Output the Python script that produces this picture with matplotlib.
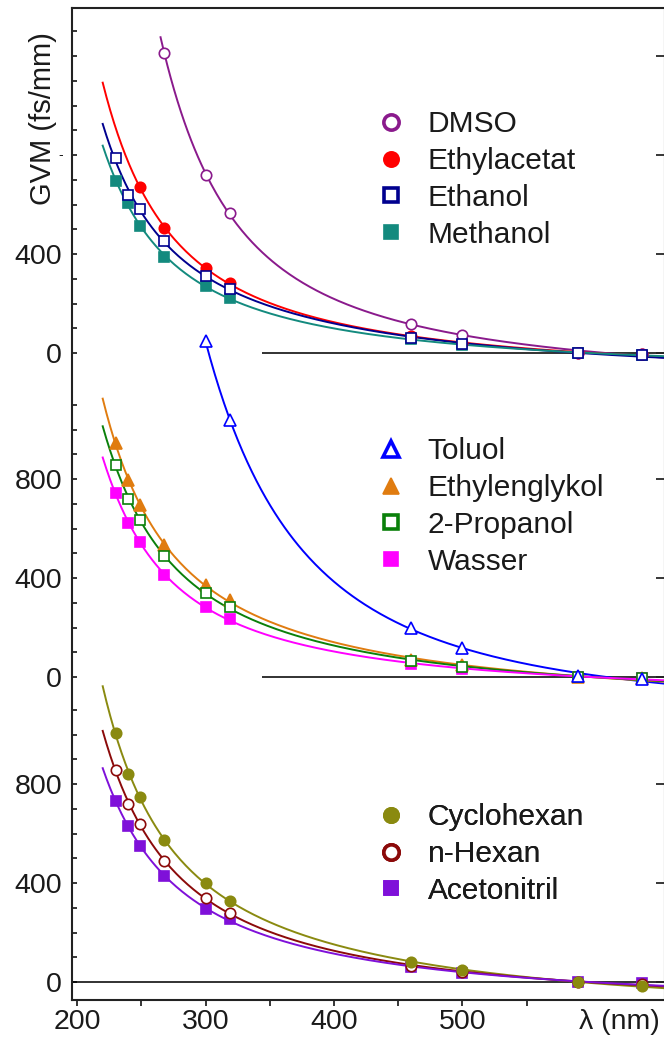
import numpy as np
import matplotlib
matplotlib.use("Agg")
import matplotlib.pyplot as plt
from matplotlib.lines import Line2D

plt.rcParams["font.family"] = ["Liberation Sans", "DejaVu Sans"]

# measurement wavelengths (nm)
lam = [230, 240, 249, 268, 300, 319, 460, 500, 590, 640]
lam_dmso = [268, 300, 319, 460, 500, 590, 640]
lam_ethylacetat = [249, 268, 300, 319, 460, 500, 590, 640]
lam_toluol = [300, 319, 460, 500, 590, 640]

# group velocity mismatch (fs/mm)
dmso = [1212, 719, 566, 117, 73, 0, -3]
ethylacetat = [671, 505, 343, 283, 68, 40, 0, -5]
ethanol = [788, 638, 582, 453, 311, 259, 61, 36, 0, -8]
methanol = [695, 606, 513, 388, 271, 222, 55, 33, 0, -6]

toluol = [1358, 1038, 198, 117, 4, -8]
ethylenglykol = [945, 796, 695, 533, 372, 311, 69, 48, 0, -5]
propanol = [857, 719, 634, 489, 339, 283, 65, 40, 0, -3]
wasser = [743, 622, 545, 412, 283, 234, 53, 32, 0, -3]

cyclohexan = [1006, 840, 748, 574, 400, 327, 81, 48, 0, -16]
nhexan = [857, 719, 638, 489, 339, 279, 66, 40, 0, -8]
acetonitril = [731, 630, 549, 428, 295, 255, 61, 36, 0, -6]

# vertical shift of each stacked block
OFFSET = {"top": 2541, "mid": 1232, "bot": 0}

# name, x, y, colour, marker, filled, block, fit start (nm), marker layer
series = [
    ("DMSO", lam_dmso, dmso, "#8a1a8c", "o", False, "top", 265, 5),
    ("Ethylacetat", lam_ethylacetat, ethylacetat, "#ff0000", "o", True, "top", 220, 4),
    ("Ethanol", lam, ethanol, "#00008f", "s", False, "top", 220, 6),
    ("Methanol", lam, methanol, "#138a7e", "s", True, "top", 220, 3),
    ("Toluol", lam_toluol, toluol, "#0000ff", "^", False, "mid", 300, 6),
    ("Ethylenglykol", lam, ethylenglykol, "#e07c10", "^", True, "mid", 220, 4),
    ("2-Propanol", lam, propanol, "#0a800a", "s", False, "mid", 220, 5),
    ("Wasser", lam, wasser, "#ff00ff", "s", True, "mid", 220, 3),
    ("Cyclohexan", lam, cyclohexan, "#8a8a10", "o", True, "bot", 220, 6),
    ("n-Hexan", lam, nhexan, "#8b0a0a", "o", False, "bot", 220, 5),
    ("Acetonitril", lam, acetonitril, "#7f10d9", "s", True, "bot", 220, 4),
]


def cauchy_fit(x, y, start, stop=660.0):
    """Cubic fit in 1/lambda^2, evaluated from start to stop."""
    u = (1000.0 / np.asarray(x, float)) ** 2
    coef = np.polyfit(u, np.asarray(y, float), 3)
    xs = np.linspace(start, stop, 300)
    return xs, np.polyval(coef, (1000.0 / xs) ** 2)


fig = plt.figure(figsize=(6.64, 10.42), dpi=100)
ax = fig.add_axes([72 / 664, 42 / 1042, 593 / 664, 992 / 1042])
ax.set_xlim(196.1, 657.6)
ax.set_ylim(-72.7, 3935.4)

# zero lines of each block
ax.hlines(OFFSET["top"], 344, 660, color="#222222", lw=1.3, zorder=1)
ax.hlines(OFFSET["mid"], 344, 660, color="#222222", lw=1.3, zorder=1)
ax.hlines(OFFSET["bot"], 190, 660, color="#222222", lw=1.3, zorder=1)

handles = {"top": [], "mid": [], "bot": []}
for name, x, y, col, mk, filled, block, start, layer in series:
    off = OFFSET[block]
    xs, ys = cauchy_fit(x, y, start)
    ax.plot(xs, ys + off, color=col, lw=1.4, zorder=2)
    ms = {"^": 8.5, "o": 7.5, "s": 7}[mk]
    ax.plot(x, np.asarray(y) + off, ls="none", marker=mk, ms=ms,
            mfc=col if filled else "white", mec=col, mew=1.2, zorder=layer)
    lms = 11 if mk != "s" else 9.5
    handles[block].append(Line2D([], [], ls="none", marker=mk, ms=lms,
                                 mfc=col if filled else "white", mec=col,
                                 mew=1.2 if filled else 2.6, label=name))

legend_top = {"top": 110, "mid": 437, "bot": 803}
for block, top_px in legend_top.items():
    leg = ax.legend(handles=handles[block], loc="upper left",
                    bbox_to_anchor=(376.4 / 664, 1 - top_px / 1042),
                    bbox_transform=fig.transFigure, frameon=False,
                    fontsize=21.5, handlelength=1.0, handletextpad=0.72,
                    labelspacing=0.3, borderpad=0, borderaxespad=0)
    for t in leg.get_texts():
        t.set_color("#1a1a1a")
    ax.add_artist(leg)

# y ticks: three blocks on one axis
major, labels, minor = [], [], []
for block, top_val in (("bot", 1100), ("mid", 1100), ("top", 1300)):
    off = OFFSET[block]
    for v in (0, 400, 800, 1200):
        if v <= top_val:
            major.append(off + v)
            labels.append(str(v) if not (block == "top" and v >= 800) else "")
    minor += [off + v for v in range(100, top_val + 1, 100) if v % 400]
ax.set_yticks(major)
ax.set_yticklabels(labels)
ax.set_yticks(minor, minor=True)
ax.tick_params(axis="y", which="both", direction="in", length=3.6, width=1.1,
               labelsize=20.5, pad=7.2, labelcolor="#1a1a1a")

right = ax.secondary_yaxis("right")
right.set_yticks(major)
right.tick_params(direction="in", length=6.5, width=1.1, labelright=False)

ax.text(-0.015, OFFSET["top"] + 800, "-", transform=ax.get_yaxis_transform(),
        ha="right", va="center", fontsize=10, color="#1a1a1a")

ax.set_xticks([200, 300, 400, 500])
ax.set_xticks([250, 350, 450, 550], minor=True)
ax.tick_params(axis="x", which="both", direction="out", length=4.3, width=1.1,
               labelsize=20.5, pad=2, labelcolor="#1a1a1a")
ax.annotate("λ (nm)", xy=(622, 0), xycoords=("data", "axes fraction"),
            xytext=(0, -6.3), textcoords="offset points",
            ha="center", va="top", fontsize=20.5, color="#1a1a1a")

ax.set_ylabel("GVM (fs/mm)", fontsize=21, color="#1a1a1a")
ax.yaxis.set_label_coords(-0.025, 0.889)

for side in ("left", "bottom", "top", "right"):
    ax.spines[side].set_linewidth(1.5)
    ax.spines[side].set_color("#222222")

fig.savefig("out.png", dpi=100)
